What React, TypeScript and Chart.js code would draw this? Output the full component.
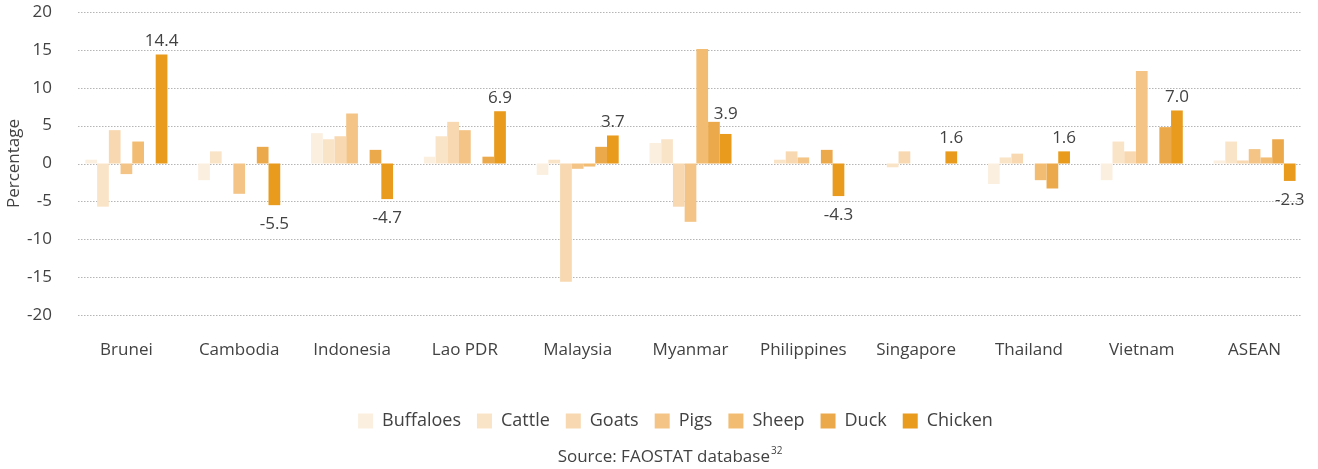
import React, { useEffect, useRef } from "react";
import { Chart, registerables } from "chart.js";

Chart.register(...registerables);

// ---- Data ----
const countries = [
  "Brunei",
  "Cambodia",
  "Indonesia",
  "Lao PDR",
  "Malaysia",
  "Myanmar",
  "Philippines",
  "Singapore",
  "Thailand",
  "Vietnam",
  "ASEAN",
];

const buffaloes = [0.5, -2.2, 4.0, 0.9, -1.5, 2.7, 0, 0, -2.7, -2.2, 0.4];
const cattle = [-5.7, 1.6, 3.2, 3.6, 0.5, 3.2, 0.5, -0.5, 0.8, 2.9, 2.9];
const goats = [4.4, 0, 3.6, 5.5, -15.6, -5.7, 1.6, 1.6, 1.3, 1.6, 0.4];
const pigs = [-1.4, -4.0, 6.6, 4.4, -0.7, -7.7, 0.8, 0, 0, 12.2, 1.9];
const sheep = [2.9, 0, 0, 0, -0.4, 15.1, 0, 0, -2.2, 0, 0.8];
const duck = [0, 2.2, 1.8, 0.9, 2.2, 5.5, 1.8, 0, -3.3, 4.8, 3.2];
const chicken = [14.4, -5.5, -4.7, 6.9, 3.7, 3.9, -4.3, 1.6, 1.6, 7.0, -2.3];

const seriesNames = ["Buffaloes", "Cattle", "Goats", "Pigs", "Sheep", "Duck", "Chicken"];
const seriesValues = [buffaloes, cattle, goats, pigs, sheep, duck, chicken];
const seriesColors = ["#FBEFDF", "#FAE4C8", "#F7D8B0", "#F3C486", "#F2BC72", "#ECA94B", "#E89B1C"];

const yTickMin = -20;
const yTickMax = 20;
const yTickStep = 5;

const labelledSeries = "Chicken";
const sourceText = "Source: FAOSTAT database";
const sourceNote = "32";

const FONT = "'Open Sans', 'Noto Sans', sans-serif";
const TEXT = "#424242";

export default function App() {
  const ref = useRef<HTMLCanvasElement>(null);

  useEffect(() => {
    const canvas = ref.current;
    if (!canvas) return;

    const dottedGrid = {
      id: "dottedGrid",
      beforeDatasetsDraw(chart: any) {
        const { ctx, chartArea, scales } = chart;
        const y = scales.y;
        ctx.save();
        ctx.strokeStyle = "#b5b5b5";
        ctx.lineWidth = 1;
        ctx.setLineDash([1.5, 1.5]);
        const x0 = chartArea.left + 8;
        const x1 = chartArea.right - 10;
        y.ticks.forEach((t: any) => {
          const py = Math.round(y.getPixelForValue(t.value)) + 0.5;
          ctx.beginPath();
          ctx.moveTo(x0, py);
          ctx.lineTo(x1, py);
          ctx.stroke();
        });
        ctx.restore();
      },
    };

    const legendShift = {
      id: "legendShift",
      afterLayout(chart: any) {
        const lg = chart.legend;
        if (lg) {
          lg.left -= 15;
          lg.right -= 15;
        }
      },
    };

    const valueLabels = {
      id: "valueLabels",
      afterDatasetsDraw(chart: any) {
        const { ctx } = chart;
        chart.data.datasets.forEach((ds: any, di: number) => {
          if (ds.label !== labelledSeries) return;
          const meta = chart.getDatasetMeta(di);
          const prevMeta = di > 0 ? chart.getDatasetMeta(di - 1) : null;
          const prevData = di > 0 ? chart.data.datasets[di - 1].data : null;
          ctx.save();
          ctx.font = `17px ${FONT}`;
          ctx.fillStyle = TEXT;
          ctx.textAlign = "center";
          ctx.textBaseline = "middle";
          meta.data.forEach((bar: any, i: number) => {
            const v = ds.data[i];
            if (v === null || v === undefined) return;
            let y: number;
            if (v >= 0) {
              y = bar.y - 13;
              // keep label clear of a taller neighbouring bar
              if (prevMeta && prevData && (prevData[i] as number) > v) {
                y = Math.min(y, prevMeta.data[i].y - 8);
              }
            } else {
              y = bar.y + 19;
            }
            ctx.fillText(Number(v).toFixed(1), bar.x, y);
          });
          ctx.restore();
        });
      },
    };

    const sourcePlugin = {
      id: "sourceNote",
      afterDraw(chart: any) {
        const { ctx } = chart;
        const lg = chart.legend;
        const cx = lg ? (lg.left + lg.right) / 2 : chart.width / 2;
        ctx.save();
        ctx.fillStyle = TEXT;
        ctx.textBaseline = "middle";
        ctx.font = `17px ${FONT}`;
        const w1 = ctx.measureText(sourceText).width;
        ctx.font = `10px ${FONT}`;
        const w2 = ctx.measureText(sourceNote).width;
        const start = cx - (w1 + w2) / 2 - 6;
        const y = chart.height - 12;
        ctx.textAlign = "left";
        ctx.font = `17px ${FONT}`;
        ctx.fillText(sourceText, start, y);
        ctx.font = `10px ${FONT}`;
        ctx.fillText(sourceNote, start + w1 + 1, y - 6);
        ctx.restore();
      },
    };

    const chart = new Chart(canvas, {
      type: "bar",
      data: {
        labels: countries,
        datasets: seriesNames.map((name, i) => ({
          label: name,
          data: seriesValues[i],
          backgroundColor: seriesColors[i],
          borderWidth: 0,
          categoryPercentage: 0.727,
          barPercentage: 1.0,
        })),
      },
      options: {
        responsive: false,
        animation: false,
        layout: {
          autoPadding: false,
          padding: { top: 12, bottom: 29, left: 0, right: 7 },
        },
        plugins: {
          tooltip: { enabled: false },
          legend: {
            position: "bottom",
            fullSize: false,
            labels: {
              boxWidth: 15,
              boxHeight: 15,
              padding: 16,
              color: TEXT,
              font: { family: FONT, size: 18 },
            },
          },
        },
        scales: {
          x: {
            grid: { display: false, drawTicks: false },
            border: { display: false },
            ticks: {
              color: TEXT,
              font: { family: FONT, size: 17 },
              padding: 25,
              maxRotation: 0,
              autoSkip: false,
            },
            afterFit: (s: any) => {
              s.height = 81;
            },
          },
          y: {
            min: yTickMin,
            max: yTickMax,
            grid: { display: false, drawTicks: false },
            border: { display: false },
            ticks: {
              stepSize: yTickStep,
              color: TEXT,
              font: { family: FONT, size: 17 },
              padding: 18,
            },
            title: {
              display: true,
              text: "Percentage",
              color: TEXT,
              font: { family: FONT, size: 17 },
              padding: { top: 4, bottom: 0 },
            },
            afterFit: (s: any) => {
              s.width = 70;
              s.paddingTop = 0;
              s.paddingBottom = 0;
            },
          },
        },
      },
      plugins: [dottedGrid, legendShift, valueLabels, sourcePlugin],
    });

    return () => chart.destroy();
  }, []);

  return (
    <div style={{ position: "absolute", left: 0, top: 0, width: 1318, height: 469, background: "#fff" }}>
      <canvas ref={ref} width={1318} height={469} style={{ display: "block", width: 1318, height: 469 }} />
    </div>
  );
}
